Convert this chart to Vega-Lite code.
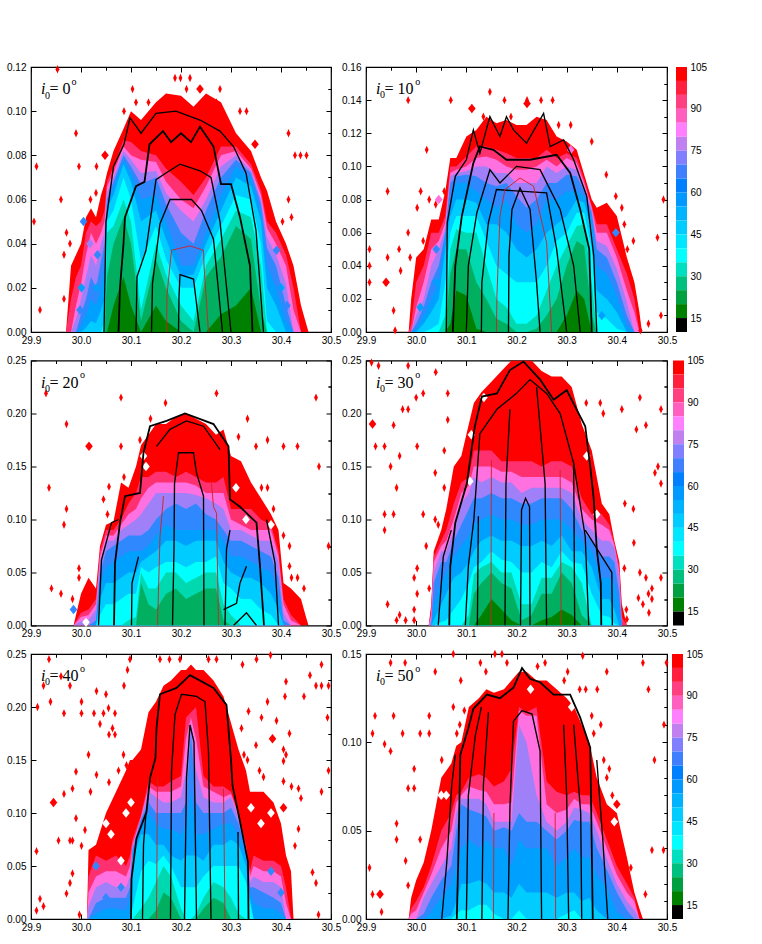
{"$schema":"https://vega.github.io/schema/vega-lite/v6.json","background":"white","padding":{"left":5,"top":61,"right":0,"bottom":0},
"config":{"view":{"stroke":"black","strokeWidth":1.2},"style":{"big":{"font":"Liberation Serif","fontSize":16,"align":"left"},"sm":{"font":"Liberation Serif","fontSize":10,"align":"left"},"sc":{"shape":"M0,-1L0.45,0L0,1L-0.45,0Z","filled":true,"color":"#ff0000","size":70,"opacity":1,"clip":true},"mo":{"shape":"M0,-1L0.8,0L0,1L-0.8,0Z","filled":true,"size":90,"opacity":1,"clip":true}},"axis":{"title":null,"grid":false,"domain":false,"tickColor":"black","labelColor":"black","labelFont":"Liberation Sans","labelFontSize":10,"labelFlush":false,"tickSize":-5,"tickWidth":1,"labelOverlap":false},"axisX":{"labelPadding":8},"axisY":{"labelPadding":10}},
"datasets":{
"b0":[
{"x":29.97,"a":0,"b":0,"c":0,"d":0,"e":0,"f":0,"g":0,"h":0,"i":0,"j":0,"k":0},
{"x":29.98,"a":0.03,"b":0.015,"c":0,"d":0,"e":0,"f":0,"g":0,"h":0,"i":0,"j":0,"k":0},
{"x":29.99,"a":0.035,"b":0.025,"c":0.012,"d":0.006,"e":0,"f":0,"g":0,"h":0,"i":0,"j":0,"k":0},
{"x":30.0,"a":0.04,"b":0.03,"c":0.022,"d":0.015,"e":0.008,"f":0.003,"g":0,"h":0,"i":0,"j":0,"k":0},
{"x":30.01,"a":0.052,"b":0.045,"c":0.035,"d":0.025,"e":0.015,"f":0.008,"g":0.002,"h":0,"i":0,"j":0,"k":0},
{"x":30.02,"a":0.056,"b":0.05,"c":0.045,"d":0.035,"e":0.025,"f":0.015,"g":0.005,"h":0,"i":0,"j":0,"k":0},
{"x":30.03,"a":0.052,"b":0.048,"c":0.04,"d":0.03,"e":0.02,"f":0.012,"g":0.004,"h":0,"i":0,"j":0,"k":0},
{"x":30.04,"a":0.062,"b":0.05,"c":0.045,"d":0.04,"e":0.032,"f":0.02,"g":0.01,"h":0,"i":0,"j":0,"k":0},
{"x":30.047,"a":0.067,"b":0.055,"c":0.05,"d":0.045,"e":0.04,"f":0.03,"g":0.015,"h":0.005,"i":0,"j":0,"k":0},
{"x":30.052,"a":0.072,"b":0.068,"c":0.066,"d":0.063,"e":0.06,"f":0.058,"g":0.056,"h":0.05,"i":0.045,"j":0.025,"k":0},
{"x":30.065,"a":0.082,"b":0.075,"c":0.072,"d":0.07,"e":0.068,"f":0.066,"g":0.062,"h":0.055,"i":0.048,"j":0.04,"k":0.012},
{"x":30.085,"a":0.092,"b":0.087,"c":0.084,"d":0.082,"e":0.08,"f":0.078,"g":0.076,"h":0.07,"i":0.06,"j":0.052,"k":0.025},
{"x":30.1,"a":0.1,"b":0.086,"c":0.08,"d":0.078,"e":0.075,"f":0.072,"g":0.068,"h":0.06,"i":0.05,"j":0.04,"k":0.012},
{"x":30.12,"a":0.096,"b":0.082,"c":0.078,"d":0.072,"e":0.067,"f":0.06,"g":0.05,"h":0.032,"i":0.01,"j":0.005,"k":0},
{"x":30.15,"a":0.104,"b":0.08,"c":0.077,"d":0.073,"e":0.07,"f":0.062,"g":0.055,"h":0.048,"i":0.04,"j":0.033,"k":0.012},
{"x":30.17,"a":0.108,"b":0.074,"c":0.068,"d":0.063,"e":0.058,"f":0.05,"g":0.042,"h":0.033,"i":0.026,"j":0.02,"k":0.005},
{"x":30.2,"a":0.107,"b":0.068,"c":0.06,"d":0.055,"e":0.045,"f":0.03,"g":0.025,"h":0.02,"i":0.012,"j":0.005,"k":0},
{"x":30.225,"a":0.102,"b":0.062,"c":0.056,"d":0.05,"e":0.04,"f":0.03,"g":0.026,"h":0.02,"i":0.005,"j":0,"k":0},
{"x":30.25,"a":0.108,"b":0.07,"c":0.066,"d":0.06,"e":0.055,"f":0.045,"g":0.04,"h":0.035,"i":0.03,"j":0.025,"k":0},
{"x":30.28,"a":0.104,"b":0.084,"c":0.08,"d":0.075,"e":0.07,"f":0.062,"g":0.055,"h":0.048,"i":0.042,"j":0.034,"k":0.008},
{"x":30.31,"a":0.09,"b":0.084,"c":0.082,"d":0.08,"e":0.078,"f":0.075,"g":0.07,"h":0.062,"i":0.055,"j":0.048,"k":0.012},
{"x":30.34,"a":0.082,"b":0.076,"c":0.074,"d":0.073,"e":0.072,"f":0.07,"g":0.066,"h":0.06,"i":0.052,"j":0.042,"k":0.02},
{"x":30.36,"a":0.07,"b":0.064,"c":0.062,"d":0.06,"e":0.058,"f":0.054,"g":0.05,"h":0.04,"i":0.03,"j":0.01,"k":0},
{"x":30.372,"a":0.064,"b":0.05,"c":0.047,"d":0.043,"e":0.038,"f":0.03,"g":0.02,"h":0.005,"i":0,"j":0,"k":0},
{"x":30.39,"a":0.05,"b":0.045,"c":0.04,"d":0.035,"e":0.03,"f":0.02,"g":0.012,"h":0,"i":0,"j":0,"k":0},
{"x":30.41,"a":0.04,"b":0.035,"c":0.03,"d":0.022,"e":0.012,"f":0.005,"g":0,"h":0,"i":0,"j":0,"k":0},
{"x":30.425,"a":0.03,"b":0.02,"c":0.01,"d":0,"e":0,"f":0,"g":0,"h":0,"i":0,"j":0,"k":0},
{"x":30.44,"a":0.012,"b":0,"c":0,"d":0,"e":0,"f":0,"g":0,"h":0,"i":0,"j":0,"k":0},
{"x":30.45,"a":0.004,"b":0,"c":0,"d":0,"e":0,"f":0,"g":0,"h":0,"i":0,"j":0,"k":0},
{"x":30.455,"a":0,"b":0,"c":0,"d":0,"e":0,"f":0,"g":0,"h":0,"i":0,"j":0,"k":0}],
"b1":[
{"x":29.985,"a":0,"b":0,"c":0,"d":0,"e":0,"f":0,"g":0,"h":0,"i":0,"j":0,"k":0},
{"x":29.99,"a":0.02,"b":0.005,"c":0,"d":0,"e":0,"f":0,"g":0,"h":0,"i":0,"j":0,"k":0},
{"x":30.0,"a":0.045,"b":0.03,"c":0.015,"d":0.01,"e":0.005,"f":0.002,"g":0,"h":0,"i":0,"j":0,"k":0},
{"x":30.015,"a":0.05,"b":0.04,"c":0.03,"d":0.02,"e":0.015,"f":0.01,"g":0.005,"h":0,"i":0,"j":0,"k":0},
{"x":30.03,"a":0.068,"b":0.06,"c":0.05,"d":0.04,"e":0.03,"f":0.02,"g":0.012,"h":0.002,"i":0,"j":0,"k":0},
{"x":30.045,"a":0.068,"b":0.06,"c":0.055,"d":0.05,"e":0.04,"f":0.03,"g":0.02,"h":0.005,"i":0,"j":0,"k":0},
{"x":30.058,"a":0.085,"b":0.07,"c":0.066,"d":0.062,"e":0.06,"f":0.058,"g":0.05,"h":0.03,"i":0.01,"j":0,"k":0},
{"x":30.068,"a":0.105,"b":0.1,"c":0.096,"d":0.094,"e":0.09,"f":0.08,"g":0.07,"h":0.06,"i":0.05,"j":0.035,"k":0.005},
{"x":30.08,"a":0.105,"b":0.1,"c":0.098,"d":0.096,"e":0.094,"f":0.09,"g":0.08,"h":0.07,"i":0.062,"j":0.05,"k":0.025},
{"x":30.1,"a":0.118,"b":0.106,"c":0.1,"d":0.097,"e":0.095,"f":0.09,"g":0.08,"h":0.07,"i":0.06,"j":0.05,"k":0.022},
{"x":30.12,"a":0.122,"b":0.112,"c":0.105,"d":0.1,"e":0.094,"f":0.085,"g":0.078,"h":0.07,"i":0.06,"j":0.03,"k":0.002},
{"x":30.14,"a":0.13,"b":0.112,"c":0.106,"d":0.1,"e":0.09,"f":0.08,"g":0.065,"h":0.055,"i":0.04,"j":0.02,"k":0},
{"x":30.16,"a":0.126,"b":0.11,"c":0.104,"d":0.096,"e":0.088,"f":0.075,"g":0.065,"h":0.04,"i":0.02,"j":0.008,"k":0},
{"x":30.18,"a":0.128,"b":0.108,"c":0.1,"d":0.096,"e":0.09,"f":0.08,"g":0.06,"h":0.035,"i":0.015,"j":0.005,"k":0},
{"x":30.2,"a":0.125,"b":0.105,"c":0.098,"d":0.09,"e":0.082,"f":0.065,"g":0.05,"h":0.03,"i":0.005,"j":0,"k":0},
{"x":30.22,"a":0.125,"b":0.105,"c":0.098,"d":0.09,"e":0.075,"f":0.06,"g":0.045,"h":0.03,"i":0.005,"j":0,"k":0},
{"x":30.24,"a":0.13,"b":0.105,"c":0.1,"d":0.09,"e":0.08,"f":0.065,"g":0.05,"h":0.03,"i":0.01,"j":0.002,"k":0},
{"x":30.26,"a":0.128,"b":0.11,"c":0.104,"d":0.1,"e":0.09,"f":0.08,"g":0.06,"h":0.04,"i":0.025,"j":0.01,"k":0},
{"x":30.28,"a":0.118,"b":0.105,"c":0.1,"d":0.096,"e":0.09,"f":0.08,"g":0.065,"h":0.055,"i":0.04,"j":0.02,"k":0},
{"x":30.3,"a":0.115,"b":0.108,"c":0.105,"d":0.1,"e":0.095,"f":0.085,"g":0.07,"h":0.06,"i":0.052,"j":0.04,"k":0.01},
{"x":30.32,"a":0.11,"b":0.105,"c":0.102,"d":0.098,"e":0.094,"f":0.085,"g":0.08,"h":0.072,"i":0.064,"j":0.055,"k":0.025},
{"x":30.335,"a":0.095,"b":0.092,"c":0.09,"d":0.088,"e":0.085,"f":0.082,"g":0.078,"h":0.072,"i":0.065,"j":0.052,"k":0.02},
{"x":30.35,"a":0.08,"b":0.076,"c":0.075,"d":0.074,"e":0.072,"f":0.068,"g":0.062,"h":0.05,"i":0.03,"j":0.01,"k":0},
{"x":30.36,"a":0.075,"b":0.065,"c":0.06,"d":0.055,"e":0.05,"f":0.04,"g":0.025,"h":0.012,"i":0,"j":0,"k":0},
{"x":30.38,"a":0.078,"b":0.065,"c":0.06,"d":0.052,"e":0.045,"f":0.035,"g":0.02,"h":0.008,"i":0,"j":0,"k":0},
{"x":30.4,"a":0.07,"b":0.05,"c":0.045,"d":0.038,"e":0.03,"f":0.022,"g":0.012,"h":0.002,"i":0,"j":0,"k":0},
{"x":30.42,"a":0.045,"b":0.035,"c":0.025,"d":0.018,"e":0.01,"f":0.004,"g":0,"h":0,"i":0,"j":0,"k":0},
{"x":30.435,"a":0.03,"b":0.02,"c":0.012,"d":0,"e":0,"f":0,"g":0,"h":0,"i":0,"j":0,"k":0},
{"x":30.445,"a":0.012,"b":0,"c":0,"d":0,"e":0,"f":0,"g":0,"h":0,"i":0,"j":0,"k":0},
{"x":30.45,"a":0,"b":0,"c":0,"d":0,"e":0,"f":0,"g":0,"h":0,"i":0,"j":0,"k":0}],
"b2":[
{"x":29.985,"a":0,"b":0,"c":0,"d":0,"e":0,"f":0,"g":0,"h":0,"i":0,"j":0},
{"x":30.0,"a":0.03,"b":0.012,"c":0.008,"d":0.004,"e":0,"f":0,"g":0,"h":0,"i":0,"j":0},
{"x":30.015,"a":0.045,"b":0.015,"c":0.01,"d":0.005,"e":0,"f":0,"g":0,"h":0,"i":0,"j":0},
{"x":30.03,"a":0.035,"b":0.025,"c":0.02,"d":0.015,"e":0.005,"f":0.002,"g":0,"h":0,"i":0,"j":0},
{"x":30.038,"a":0.075,"b":0.07,"c":0.065,"d":0.06,"e":0.05,"f":0.04,"g":0.025,"h":0.01,"i":0,"j":0},
{"x":30.05,"a":0.095,"b":0.09,"c":0.085,"d":0.08,"e":0.07,"f":0.055,"g":0.04,"h":0.02,"i":0,"j":0},
{"x":30.065,"a":0.098,"b":0.09,"c":0.085,"d":0.08,"e":0.075,"f":0.06,"g":0.04,"h":0.02,"i":0,"j":0},
{"x":30.08,"a":0.135,"b":0.1,"c":0.095,"d":0.09,"e":0.08,"f":0.065,"g":0.045,"h":0.025,"i":0,"j":0},
{"x":30.095,"a":0.13,"b":0.115,"c":0.105,"d":0.095,"e":0.085,"f":0.07,"g":0.05,"h":0.03,"i":0.005,"j":0},
{"x":30.11,"a":0.15,"b":0.125,"c":0.11,"d":0.1,"e":0.085,"f":0.07,"g":0.05,"h":0.03,"i":0.008,"j":0},
{"x":30.12,"a":0.17,"b":0.14,"c":0.12,"d":0.105,"e":0.085,"f":0.07,"g":0.06,"h":0.055,"i":0.05,"j":0.04},
{"x":30.135,"a":0.18,"b":0.14,"c":0.13,"d":0.115,"e":0.09,"f":0.075,"g":0.065,"h":0.05,"i":0.035,"j":0.02},
{"x":30.15,"a":0.19,"b":0.145,"c":0.135,"d":0.125,"e":0.1,"f":0.085,"g":0.07,"h":0.055,"i":0.035,"j":0.015},
{"x":30.17,"a":0.19,"b":0.145,"c":0.135,"d":0.125,"e":0.11,"f":0.095,"g":0.08,"h":0.06,"i":0.05,"j":0.03},
{"x":30.19,"a":0.197,"b":0.14,"c":0.135,"d":0.125,"e":0.115,"f":0.09,"g":0.08,"h":0.06,"i":0.05,"j":0.035},
{"x":30.21,"a":0.2,"b":0.145,"c":0.135,"d":0.125,"e":0.11,"f":0.09,"g":0.075,"h":0.055,"i":0.04,"j":0.025},
{"x":30.23,"a":0.195,"b":0.14,"c":0.132,"d":0.123,"e":0.115,"f":0.09,"g":0.08,"h":0.06,"i":0.045,"j":0.03},
{"x":30.25,"a":0.19,"b":0.135,"c":0.125,"d":0.12,"e":0.105,"f":0.09,"g":0.08,"h":0.06,"i":0.05,"j":0.035},
{"x":30.27,"a":0.18,"b":0.135,"c":0.125,"d":0.115,"e":0.1,"f":0.09,"g":0.08,"h":0.065,"i":0.05,"j":0.035},
{"x":30.285,"a":0.185,"b":0.14,"c":0.125,"d":0.11,"e":0.09,"f":0.08,"g":0.06,"h":0.04,"i":0.02,"j":0.005},
{"x":30.3,"a":0.16,"b":0.11,"c":0.1,"d":0.09,"e":0.08,"f":0.065,"g":0.05,"h":0.035,"i":0.01,"j":0},
{"x":30.32,"a":0.155,"b":0.11,"c":0.095,"d":0.09,"e":0.08,"f":0.065,"g":0.045,"h":0.025,"i":0,"j":0},
{"x":30.34,"a":0.135,"b":0.11,"c":0.09,"d":0.085,"e":0.075,"f":0.06,"g":0.045,"h":0.025,"i":0,"j":0},
{"x":30.36,"a":0.12,"b":0.1,"c":0.09,"d":0.08,"e":0.07,"f":0.055,"g":0.04,"h":0.015,"i":0,"j":0},
{"x":30.38,"a":0.105,"b":0.095,"c":0.09,"d":0.08,"e":0.065,"f":0.05,"g":0.03,"h":0.01,"i":0,"j":0},
{"x":30.395,"a":0.09,"b":0.07,"c":0.065,"d":0.06,"e":0.045,"f":0.03,"g":0.015,"h":0,"i":0,"j":0},
{"x":30.405,"a":0.04,"b":0.025,"c":0.02,"d":0.012,"e":0.005,"f":0,"g":0,"h":0,"i":0,"j":0},
{"x":30.42,"a":0.035,"b":0.01,"c":0.005,"d":0,"e":0,"f":0,"g":0,"h":0,"i":0,"j":0},
{"x":30.44,"a":0.025,"b":0,"c":0,"d":0,"e":0,"f":0,"g":0,"h":0,"i":0,"j":0},
{"x":30.45,"a":0.008,"b":0,"c":0,"d":0,"e":0,"f":0,"g":0,"h":0,"i":0,"j":0},
{"x":30.455,"a":0,"b":0,"c":0,"d":0,"e":0,"f":0,"g":0,"h":0,"i":0,"j":0}],
"b3":[
{"x":30.025,"a":0,"b":0,"c":0,"d":0,"e":0,"f":0,"g":0,"h":0,"i":0,"j":0,"k":0},
{"x":30.03,"a":0.02,"b":0.015,"c":0.01,"d":0.005,"e":0,"f":0,"g":0,"h":0,"i":0,"j":0,"k":0},
{"x":30.035,"a":0.07,"b":0.065,"c":0.06,"d":0.05,"e":0.04,"f":0.02,"g":0.005,"h":0,"i":0,"j":0,"k":0},
{"x":30.05,"a":0.09,"b":0.08,"c":0.075,"d":0.07,"e":0.06,"f":0.04,"g":0.02,"h":0.003,"i":0,"j":0,"k":0},
{"x":30.06,"a":0.11,"b":0.09,"c":0.08,"d":0.07,"e":0.06,"f":0.05,"g":0.03,"h":0.005,"i":0,"j":0,"k":0},
{"x":30.075,"a":0.15,"b":0.115,"c":0.1,"d":0.09,"e":0.08,"f":0.065,"g":0.045,"h":0.015,"i":0,"j":0,"k":0},
{"x":30.09,"a":0.16,"b":0.135,"c":0.125,"d":0.115,"e":0.095,"f":0.075,"g":0.05,"h":0.025,"i":0,"j":0,"k":0},
{"x":30.105,"a":0.19,"b":0.14,"c":0.132,"d":0.125,"e":0.11,"f":0.085,"g":0.06,"h":0.04,"i":0.01,"j":0,"k":0},
{"x":30.115,"a":0.21,"b":0.165,"c":0.15,"d":0.14,"e":0.12,"f":0.095,"g":0.07,"h":0.055,"i":0.048,"j":0.03,"k":0},
{"x":30.13,"a":0.22,"b":0.165,"c":0.15,"d":0.135,"e":0.12,"f":0.1,"g":0.08,"h":0.06,"i":0.055,"j":0.04,"k":0.01},
{"x":30.15,"a":0.23,"b":0.165,"c":0.15,"d":0.14,"e":0.125,"f":0.105,"g":0.085,"h":0.07,"i":0.06,"j":0.05,"k":0.025},
{"x":30.17,"a":0.24,"b":0.155,"c":0.145,"d":0.135,"e":0.12,"f":0.1,"g":0.08,"h":0.062,"i":0.05,"j":0.04,"k":0.015},
{"x":30.19,"a":0.25,"b":0.155,"c":0.145,"d":0.135,"e":0.12,"f":0.1,"g":0.08,"h":0.06,"i":0.05,"j":0.035,"k":0.005},
{"x":30.21,"a":0.25,"b":0.155,"c":0.14,"d":0.125,"e":0.115,"f":0.095,"g":0.075,"h":0.05,"i":0.02,"j":0.005,"k":0},
{"x":30.23,"a":0.25,"b":0.155,"c":0.14,"d":0.13,"e":0.115,"f":0.095,"g":0.075,"h":0.05,"i":0.02,"j":0.01,"k":0},
{"x":30.25,"a":0.24,"b":0.15,"c":0.14,"d":0.13,"e":0.12,"f":0.1,"g":0.08,"h":0.06,"i":0.045,"j":0.03,"k":0.005},
{"x":30.27,"a":0.235,"b":0.155,"c":0.14,"d":0.13,"e":0.12,"f":0.1,"g":0.075,"h":0.055,"i":0.045,"j":0.03,"k":0.008},
{"x":30.29,"a":0.235,"b":0.155,"c":0.14,"d":0.13,"e":0.12,"f":0.1,"g":0.085,"h":0.07,"i":0.06,"j":0.05,"k":0.015},
{"x":30.31,"a":0.225,"b":0.15,"c":0.135,"d":0.125,"e":0.11,"f":0.09,"g":0.07,"h":0.06,"i":0.055,"j":0.04,"k":0.01},
{"x":30.33,"a":0.19,"b":0.12,"c":0.11,"d":0.1,"e":0.09,"f":0.08,"g":0.07,"h":0.058,"i":0.04,"j":0.01,"k":0},
{"x":30.35,"a":0.165,"b":0.105,"c":0.1,"d":0.09,"e":0.08,"f":0.07,"g":0.055,"h":0.03,"i":0,"j":0,"k":0},
{"x":30.37,"a":0.115,"b":0.105,"c":0.095,"d":0.08,"e":0.065,"f":0.045,"g":0.025,"h":0.01,"i":0,"j":0,"k":0},
{"x":30.385,"a":0.105,"b":0.095,"c":0.09,"d":0.08,"e":0.065,"f":0.045,"g":0.025,"h":0.008,"i":0,"j":0,"k":0},
{"x":30.395,"a":0.08,"b":0.078,"c":0.076,"d":0.074,"e":0.06,"f":0.04,"g":0.015,"h":0.002,"i":0,"j":0,"k":0},
{"x":30.405,"a":0.06,"b":0.055,"c":0.05,"d":0.045,"e":0.03,"f":0.015,"g":0,"h":0,"i":0,"j":0,"k":0},
{"x":30.41,"a":0.02,"b":0.008,"c":0,"d":0,"e":0,"f":0,"g":0,"h":0,"i":0,"j":0,"k":0},
{"x":30.42,"a":0,"b":0,"c":0,"d":0,"e":0,"f":0,"g":0,"h":0,"i":0,"j":0,"k":0}],
"b4":[
{"x":30.012,"a":0,"b":0,"c":0,"d":0,"e":0,"f":0,"g":0,"h":0,"i":0,"j":0},
{"x":30.015,"a":0.065,"b":0.04,"c":0.025,"d":0.012,"e":0,"f":0,"g":0,"h":0,"i":0,"j":0},
{"x":30.03,"a":0.07,"b":0.06,"c":0.04,"d":0.03,"e":0.015,"f":0.005,"g":0,"h":0,"i":0,"j":0},
{"x":30.05,"a":0.1,"b":0.055,"c":0.045,"d":0.035,"e":0.02,"f":0.01,"g":0,"h":0,"i":0,"j":0},
{"x":30.07,"a":0.12,"b":0.06,"c":0.045,"d":0.03,"e":0.02,"f":0.01,"g":0,"h":0,"i":0,"j":0},
{"x":30.09,"a":0.14,"b":0.05,"c":0.04,"d":0.03,"e":0.02,"f":0.008,"g":0,"h":0,"i":0,"j":0},
{"x":30.098,"a":0.15,"b":0.06,"c":0.05,"d":0.04,"e":0.03,"f":0.02,"g":0,"h":0,"i":0,"j":0},
{"x":30.103,"a":0.15,"b":0.075,"c":0.07,"d":0.068,"e":0.065,"f":0.062,"g":0.055,"h":0.01,"i":0,"j":0},
{"x":30.12,"a":0.16,"b":0.098,"c":0.096,"d":0.095,"e":0.094,"f":0.09,"g":0.08,"h":0.045,"i":0.01,"j":0},
{"x":30.135,"a":0.195,"b":0.13,"c":0.125,"d":0.12,"e":0.11,"f":0.1,"g":0.08,"h":0.055,"i":0.02,"j":0},
{"x":30.15,"a":0.205,"b":0.125,"c":0.12,"d":0.115,"e":0.1,"f":0.09,"g":0.07,"h":0.052,"i":0.035,"j":0.008},
{"x":30.165,"a":0.22,"b":0.125,"c":0.12,"d":0.11,"e":0.1,"f":0.085,"g":0.07,"h":0.06,"i":0.05,"j":0.025},
{"x":30.18,"a":0.225,"b":0.13,"c":0.12,"d":0.11,"e":0.1,"f":0.085,"g":0.06,"h":0.05,"i":0.04,"j":0.02},
{"x":30.2,"a":0.235,"b":0.135,"c":0.125,"d":0.115,"e":0.1,"f":0.08,"g":0.055,"h":0.03,"i":0.01,"j":0},
{"x":30.21,"a":0.235,"b":0.19,"c":0.17,"d":0.14,"e":0.11,"f":0.09,"g":0.06,"h":0.03,"i":0,"j":0},
{"x":30.22,"a":0.24,"b":0.195,"c":0.19,"d":0.185,"e":0.175,"f":0.12,"g":0.06,"h":0.03,"i":0,"j":0},
{"x":30.23,"a":0.235,"b":0.2,"c":0.17,"d":0.14,"e":0.11,"f":0.08,"g":0.06,"h":0.03,"i":0.005,"j":0},
{"x":30.245,"a":0.235,"b":0.135,"c":0.125,"d":0.115,"e":0.1,"f":0.08,"g":0.055,"h":0.04,"i":0.02,"j":0.01},
{"x":30.265,"a":0.225,"b":0.125,"c":0.12,"d":0.11,"e":0.1,"f":0.085,"g":0.07,"h":0.05,"i":0.035,"j":0.02},
{"x":30.285,"a":0.21,"b":0.125,"c":0.115,"d":0.11,"e":0.1,"f":0.09,"g":0.07,"h":0.05,"i":0.03,"j":0.015},
{"x":30.3,"a":0.185,"b":0.12,"c":0.118,"d":0.115,"e":0.105,"f":0.09,"g":0.075,"h":0.05,"i":0.02,"j":0},
{"x":30.315,"a":0.16,"b":0.1,"c":0.098,"d":0.095,"e":0.09,"f":0.08,"g":0.07,"h":0.05,"i":0.005,"j":0},
{"x":30.33,"a":0.14,"b":0.07,"c":0.068,"d":0.066,"e":0.065,"f":0.06,"g":0.05,"h":0.035,"i":0,"j":0},
{"x":30.338,"a":0.12,"b":0.045,"c":0.04,"d":0.035,"e":0.03,"f":0.025,"g":0.02,"h":0.015,"i":0,"j":0},
{"x":30.345,"a":0.12,"b":0.06,"c":0.05,"d":0.04,"e":0.03,"f":0.015,"g":0,"h":0,"i":0,"j":0},
{"x":30.365,"a":0.12,"b":0.055,"c":0.045,"d":0.035,"e":0.025,"f":0.01,"g":0,"h":0,"i":0,"j":0},
{"x":30.385,"a":0.11,"b":0.055,"c":0.045,"d":0.035,"e":0.02,"f":0.01,"g":0,"h":0,"i":0,"j":0},
{"x":30.4,"a":0.09,"b":0.05,"c":0.04,"d":0.03,"e":0.015,"f":0.005,"g":0,"h":0,"i":0,"j":0},
{"x":30.41,"a":0.06,"b":0.03,"c":0.015,"d":0,"e":0,"f":0,"g":0,"h":0,"i":0,"j":0},
{"x":30.42,"a":0.045,"b":0,"c":0,"d":0,"e":0,"f":0,"g":0,"h":0,"i":0,"j":0},
{"x":30.425,"a":0,"b":0,"c":0,"d":0,"e":0,"f":0,"g":0,"h":0,"i":0,"j":0}],
"b5":[
{"x":29.985,"a":0,"b":0,"c":0,"d":0,"e":0,"f":0,"g":0,"h":0},
{"x":29.99,"a":0.012,"b":0.006,"c":0.003,"d":0,"e":0,"f":0,"g":0,"h":0},
{"x":30.0,"a":0.022,"b":0.01,"c":0.005,"d":0,"e":0,"f":0,"g":0,"h":0},
{"x":30.015,"a":0.032,"b":0.018,"c":0.015,"d":0.012,"e":0.003,"f":0,"g":0,"h":0},
{"x":30.03,"a":0.05,"b":0.03,"c":0.025,"d":0.02,"e":0.012,"f":0.004,"g":0,"h":0},
{"x":30.05,"a":0.08,"b":0.05,"c":0.04,"d":0.03,"e":0.022,"f":0.012,"g":0,"h":0},
{"x":30.07,"a":0.088,"b":0.06,"c":0.05,"d":0.04,"e":0.03,"f":0.02,"g":0.002,"h":0},
{"x":30.08,"a":0.098,"b":0.07,"c":0.066,"d":0.06,"e":0.05,"f":0.03,"g":0.01,"h":0.003},
{"x":30.09,"a":0.1,"b":0.072,"c":0.07,"d":0.068,"e":0.065,"f":0.04,"g":0.02,"h":0.005},
{"x":30.105,"a":0.12,"b":0.08,"c":0.075,"d":0.068,"e":0.062,"f":0.045,"g":0.02,"h":0.005},
{"x":30.125,"a":0.125,"b":0.082,"c":0.073,"d":0.068,"e":0.06,"f":0.04,"g":0.022,"h":0.008},
{"x":30.14,"a":0.13,"b":0.08,"c":0.072,"d":0.065,"e":0.058,"f":0.045,"g":0.02,"h":0.008},
{"x":30.155,"a":0.128,"b":0.075,"c":0.065,"d":0.055,"e":0.05,"f":0.04,"g":0.015,"h":0.003},
{"x":30.175,"a":0.13,"b":0.078,"c":0.065,"d":0.055,"e":0.052,"f":0.04,"g":0.015,"h":0},
{"x":30.19,"a":0.135,"b":0.085,"c":0.066,"d":0.055,"e":0.05,"f":0.03,"g":0.012,"h":0},
{"x":30.205,"a":0.14,"b":0.12,"c":0.118,"d":0.11,"e":0.06,"f":0.045,"g":0.02,"h":0.005},
{"x":30.22,"a":0.14,"b":0.117,"c":0.115,"d":0.1,"e":0.055,"f":0.04,"g":0.015,"h":0},
{"x":30.24,"a":0.135,"b":0.12,"c":0.115,"d":0.07,"e":0.055,"f":0.04,"g":0.015,"h":0},
{"x":30.26,"a":0.135,"b":0.078,"c":0.065,"d":0.055,"e":0.05,"f":0.04,"g":0.015,"h":0},
{"x":30.28,"a":0.13,"b":0.072,"c":0.06,"d":0.05,"e":0.045,"f":0.03,"g":0.012,"h":0},
{"x":30.3,"a":0.125,"b":0.07,"c":0.062,"d":0.055,"e":0.05,"f":0.035,"g":0.015,"h":0.003},
{"x":30.315,"a":0.12,"b":0.072,"c":0.068,"d":0.063,"e":0.056,"f":0.04,"g":0.015,"h":0.005},
{"x":30.33,"a":0.11,"b":0.07,"c":0.065,"d":0.062,"e":0.055,"f":0.035,"g":0.01,"h":0},
{"x":30.345,"a":0.1,"b":0.07,"c":0.065,"d":0.06,"e":0.055,"f":0.035,"g":0.012,"h":0},
{"x":30.36,"a":0.08,"b":0.06,"c":0.055,"d":0.05,"e":0.04,"f":0.025,"g":0.005,"h":0},
{"x":30.38,"a":0.065,"b":0.045,"c":0.04,"d":0.034,"e":0.028,"f":0.018,"g":0,"h":0},
{"x":30.4,"a":0.06,"b":0.03,"c":0.025,"d":0.02,"e":0.015,"f":0.004,"g":0,"h":0},
{"x":30.42,"a":0.035,"b":0.02,"c":0.015,"d":0.01,"e":0.005,"f":0,"g":0,"h":0},
{"x":30.435,"a":0.015,"b":0.012,"c":0.01,"d":0.005,"e":0,"f":0,"g":0,"h":0},
{"x":30.445,"a":0.006,"b":0,"c":0,"d":0,"e":0,"f":0,"g":0,"h":0},
{"x":30.452,"a":0,"b":0,"c":0,"d":0,"e":0,"f":0,"g":0,"h":0}],
"c0":[
{"c":1,"w":"t","x":30.075,"y":0},{"c":1,"w":"t","x":30.078,"y":0.02},{"c":1,"w":"t","x":30.085,"y":0.04},{"c":1,"w":"t","x":30.088,"y":0.052},{"c":1,"w":"t","x":30.11,"y":0.066},{"c":1,"w":"t","x":30.127,"y":0.068},{"c":1,"w":"t","x":30.137,"y":0.085},{"c":1,"w":"t","x":30.164,"y":0.091},{"c":1,"w":"t","x":30.18,"y":0.086},{"c":1,"w":"t","x":30.2,"y":0.09},{"c":1,"w":"t","x":30.22,"y":0.086},{"c":1,"w":"t","x":30.238,"y":0.093},{"c":1,"w":"t","x":30.265,"y":0.084},{"c":1,"w":"t","x":30.28,"y":0.067},{"c":1,"w":"t","x":30.3,"y":0.067},{"c":1,"w":"t","x":30.318,"y":0.052},{"c":1,"w":"t","x":30.338,"y":0.03},{"c":1,"w":"t","x":30.343,"y":0},
{"c":2,"w":"k","x":30.046,"y":0},{"c":2,"w":"k","x":30.05,"y":0.05},{"c":2,"w":"k","x":30.065,"y":0.075},{"c":2,"w":"k","x":30.086,"y":0.085},{"c":2,"w":"k","x":30.098,"y":0.097},{"c":2,"w":"k","x":30.12,"y":0.09},{"c":2,"w":"k","x":30.15,"y":0.099},{"c":2,"w":"k","x":30.19,"y":0.1},{"c":2,"w":"k","x":30.238,"y":0.096},{"c":2,"w":"k","x":30.278,"y":0.091},{"c":2,"w":"k","x":30.305,"y":0.084},{"c":2,"w":"k","x":30.33,"y":0.072},{"c":2,"w":"k","x":30.35,"y":0.046},{"c":2,"w":"k","x":30.365,"y":0},
{"c":3,"w":"k","x":30.11,"y":0},{"c":3,"w":"k","x":30.112,"y":0.025},{"c":3,"w":"k","x":30.13,"y":0.037},{"c":3,"w":"k","x":30.15,"y":0.069},{"c":3,"w":"k","x":30.17,"y":0.072},{"c":3,"w":"k","x":30.198,"y":0.076},{"c":3,"w":"k","x":30.238,"y":0.073},{"c":3,"w":"k","x":30.26,"y":0.07},{"c":3,"w":"k","x":30.278,"y":0.05},{"c":3,"w":"k","x":30.3,"y":0},
{"c":4,"w":"k","x":30.141,"y":0},{"c":4,"w":"k","x":30.143,"y":0.022},{"c":4,"w":"k","x":30.158,"y":0.049},{"c":4,"w":"k","x":30.178,"y":0.06},{"c":4,"w":"k","x":30.221,"y":0.06},{"c":4,"w":"k","x":30.241,"y":0.055},{"c":4,"w":"k","x":30.265,"y":0.042},{"c":4,"w":"k","x":30.283,"y":0},
{"c":5,"w":"r","x":30.171,"y":0},{"c":5,"w":"r","x":30.172,"y":0.017},{"c":5,"w":"r","x":30.181,"y":0.037},{"c":5,"w":"r","x":30.218,"y":0.039},{"c":5,"w":"r","x":30.245,"y":0.037},{"c":5,"w":"r","x":30.246,"y":0.03},{"c":5,"w":"r","x":30.255,"y":0},
{"c":6,"w":"k","x":30.195,"y":0},{"c":6,"w":"k","x":30.196,"y":0.016},{"c":6,"w":"k","x":30.198,"y":0.026},{"c":6,"w":"k","x":30.225,"y":0.024},{"c":6,"w":"k","x":30.238,"y":0}],
"c1":[
{"c":1,"w":"t","x":30.073,"y":0},{"c":1,"w":"t","x":30.078,"y":0.04},{"c":1,"w":"t","x":30.091,"y":0.07},{"c":1,"w":"t","x":30.114,"y":0.102},{"c":1,"w":"t","x":30.127,"y":0.112},{"c":1,"w":"t","x":30.154,"y":0.11},{"c":1,"w":"t","x":30.18,"y":0.104},{"c":1,"w":"t","x":30.227,"y":0.104},{"c":1,"w":"t","x":30.28,"y":0.107},{"c":1,"w":"t","x":30.307,"y":0.096},{"c":1,"w":"t","x":30.327,"y":0.074},{"c":1,"w":"t","x":30.345,"y":0.05},{"c":1,"w":"t","x":30.35,"y":0},
{"c":2,"w":"k","x":30.06,"y":0},{"c":2,"w":"k","x":30.062,"y":0.066},{"c":2,"w":"k","x":30.078,"y":0.094},{"c":2,"w":"k","x":30.1,"y":0.104},{"c":2,"w":"k","x":30.114,"y":0.122},{"c":2,"w":"k","x":30.127,"y":0.108},{"c":2,"w":"k","x":30.147,"y":0.13},{"c":2,"w":"k","x":30.167,"y":0.118},{"c":2,"w":"k","x":30.18,"y":0.13},{"c":2,"w":"k","x":30.194,"y":0.122},{"c":2,"w":"k","x":30.22,"y":0.114},{"c":2,"w":"k","x":30.254,"y":0.132},{"c":2,"w":"k","x":30.267,"y":0.112},{"c":2,"w":"k","x":30.294,"y":0.116},{"c":2,"w":"k","x":30.314,"y":0.104},{"c":2,"w":"k","x":30.34,"y":0.082},{"c":2,"w":"k","x":30.354,"y":0.046},{"c":2,"w":"k","x":30.36,"y":0},
{"c":3,"w":"k","x":30.1,"y":0},{"c":3,"w":"k","x":30.104,"y":0.04},{"c":3,"w":"k","x":30.121,"y":0.072},{"c":3,"w":"k","x":30.147,"y":0.098},{"c":3,"w":"k","x":30.167,"y":0.09},{"c":3,"w":"k","x":30.2,"y":0.1},{"c":3,"w":"k","x":30.247,"y":0.098},{"c":3,"w":"k","x":30.287,"y":0.074},{"c":3,"w":"k","x":30.314,"y":0.04},{"c":3,"w":"k","x":30.327,"y":0},
{"c":4,"w":"k","x":30.13,"y":0},{"c":4,"w":"k","x":30.131,"y":0.03},{"c":4,"w":"k","x":30.144,"y":0.066},{"c":4,"w":"k","x":30.16,"y":0.086},{"c":4,"w":"k","x":30.26,"y":0.084},{"c":4,"w":"k","x":30.28,"y":0.05},{"c":4,"w":"k","x":30.3,"y":0},
{"c":5,"w":"r","x":30.16,"y":0},{"c":5,"w":"r","x":30.161,"y":0.022},{"c":5,"w":"r","x":30.167,"y":0.07},{"c":5,"w":"r","x":30.177,"y":0.086},{"c":5,"w":"r","x":30.207,"y":0.093},{"c":5,"w":"r","x":30.234,"y":0.088},{"c":5,"w":"r","x":30.26,"y":0.054},{"c":5,"w":"r","x":30.27,"y":0},
{"c":6,"w":"k","x":30.184,"y":0},{"c":6,"w":"k","x":30.185,"y":0.046},{"c":6,"w":"k","x":30.191,"y":0.074},{"c":6,"w":"k","x":30.207,"y":0.087},{"c":6,"w":"k","x":30.227,"y":0.074},{"c":6,"w":"k","x":30.24,"y":0.03},{"c":6,"w":"k","x":30.247,"y":0}],
"c2":[
{"c":1,"w":"t","x":30.066,"y":0},{"c":1,"w":"t","x":30.068,"y":0.059},{"c":1,"w":"t","x":30.078,"y":0.097},{"c":1,"w":"t","x":30.088,"y":0.122},{"c":1,"w":"t","x":30.118,"y":0.125},{"c":1,"w":"t","x":30.125,"y":0.163},{"c":1,"w":"t","x":30.138,"y":0.188},{"c":1,"w":"t","x":30.171,"y":0.193},{"c":1,"w":"t","x":30.208,"y":0.2},{"c":1,"w":"t","x":30.265,"y":0.19},{"c":1,"w":"t","x":30.295,"y":0.169},{"c":1,"w":"t","x":30.298,"y":0.119},{"c":1,"w":"t","x":30.318,"y":0.112},{"c":1,"w":"t","x":30.351,"y":0.097},{"c":1,"w":"t","x":30.358,"y":0.056},{"c":1,"w":"t","x":30.366,"y":0},
{"c":2,"w":"k","x":30.035,"y":0},{"c":2,"w":"k","x":30.041,"y":0.062},{"c":2,"w":"k","x":30.061,"y":0.097},{"c":2,"w":"k","x":30.075,"y":0.1},
{"c":3,"w":"k","x":30.371,"y":0.1},{"c":3,"w":"k","x":30.388,"y":0.059},{"c":3,"w":"k","x":30.395,"y":0},
{"c":4,"w":"k","x":30.101,"y":0},{"c":4,"w":"k","x":30.102,"y":0.04},{"c":4,"w":"k","x":30.115,"y":0.065},
{"c":5,"w":"r","x":30.153,"y":0},{"c":5,"w":"r","x":30.158,"y":0.084},{"c":5,"w":"r","x":30.165,"y":0.122},
{"c":6,"w":"k","x":30.183,"y":0},{"c":6,"w":"k","x":30.186,"y":0.072},{"c":6,"w":"k","x":30.187,"y":0.134},{"c":6,"w":"k","x":30.195,"y":0.163},{"c":6,"w":"k","x":30.225,"y":0.163},{"c":6,"w":"k","x":30.231,"y":0.144},{"c":6,"w":"k","x":30.245,"y":0.122},{"c":6,"w":"k","x":30.246,"y":0},
{"c":7,"w":"r","x":30.261,"y":0.134},{"c":7,"w":"r","x":30.265,"y":0.112},{"c":7,"w":"r","x":30.271,"y":0.106},{"c":7,"w":"r","x":30.275,"y":0},
{"c":8,"w":"k","x":30.151,"y":0.169},{"c":8,"w":"k","x":30.178,"y":0.185},{"c":8,"w":"k","x":30.211,"y":0.193},{"c":8,"w":"k","x":30.245,"y":0.188},{"c":8,"w":"k","x":30.278,"y":0.166},
{"c":9,"w":"k","x":30.288,"y":0},{"c":9,"w":"k","x":30.291,"y":0.072},{"c":9,"w":"k","x":30.298,"y":0.09},
{"c":10,"w":"k","x":30.285,"y":0.015},{"c":10,"w":"k","x":30.311,"y":0.021},{"c":10,"w":"k","x":30.318,"y":0.04},{"c":10,"w":"k","x":30.331,"y":0.056},
{"c":11,"w":"k","x":30.305,"y":0},{"c":11,"w":"k","x":30.331,"y":0.012},{"c":11,"w":"k","x":30.351,"y":0}],
"c3":[
{"c":1,"w":"t","x":30.066,"y":0},{"c":1,"w":"t","x":30.068,"y":0.056},{"c":1,"w":"t","x":30.078,"y":0.097},{"c":1,"w":"t","x":30.101,"y":0.134},{"c":1,"w":"t","x":30.117,"y":0.188},{"c":1,"w":"t","x":30.131,"y":0.216},{"c":1,"w":"t","x":30.161,"y":0.219},{"c":1,"w":"t","x":30.187,"y":0.241},{"c":1,"w":"t","x":30.214,"y":0.249},{"c":1,"w":"t","x":30.247,"y":0.232},{"c":1,"w":"t","x":30.274,"y":0.213},{"c":1,"w":"t","x":30.3,"y":0.222},{"c":1,"w":"t","x":30.337,"y":0.188},{"c":1,"w":"t","x":30.347,"y":0.15},{"c":1,"w":"t","x":30.354,"y":0.119},{"c":1,"w":"t","x":30.36,"y":0.072},{"c":1,"w":"t","x":30.368,"y":0.04},{"c":1,"w":"t","x":30.369,"y":0},
{"c":2,"w":"k","x":30.044,"y":0},{"c":2,"w":"k","x":30.054,"y":0.065},{"c":2,"w":"k","x":30.07,"y":0.09},
{"c":3,"w":"k","x":30.098,"y":0},{"c":3,"w":"k","x":30.104,"y":0.056},{"c":3,"w":"k","x":30.115,"y":0.1},{"c":3,"w":"k","x":30.127,"y":0.181},{"c":3,"w":"k","x":30.161,"y":0.204},{"c":3,"w":"k","x":30.2,"y":0.219},{"c":3,"w":"k","x":30.227,"y":0.232},{"c":3,"w":"k","x":30.26,"y":0.219},{"c":3,"w":"k","x":30.287,"y":0.2},{"c":3,"w":"k","x":30.314,"y":0.153},{"c":3,"w":"k","x":30.337,"y":0.084},{"c":3,"w":"k","x":30.344,"y":0},
{"c":4,"w":"r","x":30.149,"y":0},{"c":4,"w":"r","x":30.15,"y":0.156},
{"c":5,"w":"k","x":30.122,"y":0},{"c":5,"w":"k","x":30.124,"y":0.103},
{"c":6,"w":"k","x":30.177,"y":0},{"c":6,"w":"k","x":30.179,"y":0.134},{"c":6,"w":"k","x":30.187,"y":0.204},
{"c":7,"w":"k","x":30.208,"y":0},{"c":7,"w":"k","x":30.21,"y":0.109},{"c":7,"w":"k","x":30.218,"y":0.12},{"c":7,"w":"k","x":30.226,"y":0.112},{"c":7,"w":"k","x":30.227,"y":0},
{"c":8,"w":"k","x":30.24,"y":0.225},{"c":8,"w":"k","x":30.257,"y":0.134},{"c":8,"w":"k","x":30.26,"y":0},
{"c":9,"w":"r","x":30.287,"y":0.147},{"c":9,"w":"r","x":30.289,"y":0},
{"c":10,"w":"k","x":30.314,"y":0.153},{"c":10,"w":"k","x":30.316,"y":0},
{"c":11,"w":"k","x":30.337,"y":0.09},{"c":11,"w":"k","x":30.39,"y":0.05},{"c":11,"w":"k","x":30.391,"y":0}],
"c4":[
{"c":1,"w":"t","x":30.1,"y":0},{"c":1,"w":"t","x":30.101,"y":0.038},{"c":1,"w":"t","x":30.111,"y":0.076},{"c":1,"w":"t","x":30.131,"y":0.101},{"c":1,"w":"t","x":30.138,"y":0.133},{"c":1,"w":"t","x":30.149,"y":0.152},{"c":1,"w":"t","x":30.151,"y":0.18},{"c":1,"w":"t","x":30.158,"y":0.212},{"c":1,"w":"t","x":30.191,"y":0.218},{"c":1,"w":"t","x":30.218,"y":0.23},{"c":1,"w":"t","x":30.265,"y":0.218},{"c":1,"w":"t","x":30.291,"y":0.202},{"c":1,"w":"t","x":30.3,"y":0.15},{"c":1,"w":"t","x":30.303,"y":0.126},{"c":1,"w":"t","x":30.318,"y":0.092},{"c":1,"w":"t","x":30.334,"y":0.054},{"c":1,"w":"t","x":30.335,"y":0},
{"c":2,"w":"k","x":30.123,"y":0},{"c":2,"w":"k","x":30.125,"y":0.07},{"c":2,"w":"k","x":30.13,"y":0.1},
{"c":3,"w":"r","x":30.151,"y":0},{"c":3,"w":"r","x":30.153,"y":0.133},
{"c":4,"w":"k","x":30.179,"y":0},{"c":4,"w":"k","x":30.181,"y":0.139},{"c":4,"w":"k","x":30.188,"y":0.193},{"c":4,"w":"k","x":30.201,"y":0.212},{"c":4,"w":"k","x":30.231,"y":0.21},{"c":4,"w":"k","x":30.248,"y":0.205},{"c":4,"w":"k","x":30.255,"y":0.158},{"c":4,"w":"k","x":30.26,"y":0},
{"c":5,"w":"k","x":30.207,"y":0},{"c":5,"w":"k","x":30.211,"y":0.133},{"c":5,"w":"k","x":30.218,"y":0.183},{"c":5,"w":"k","x":30.226,"y":0.167},{"c":5,"w":"k","x":30.231,"y":0},
{"c":6,"w":"r","x":30.285,"y":0.123},{"c":6,"w":"r","x":30.288,"y":0},
{"c":7,"w":"k","x":30.314,"y":0.082},{"c":7,"w":"k","x":30.315,"y":0}],
"c5":[
{"c":1,"w":"t","x":30.081,"y":0},{"c":1,"w":"t","x":30.084,"y":0.034},{"c":1,"w":"t","x":30.088,"y":0.093},{"c":1,"w":"t","x":30.104,"y":0.108},{"c":1,"w":"t","x":30.114,"y":0.119},{"c":1,"w":"t","x":30.141,"y":0.127},{"c":1,"w":"t","x":30.167,"y":0.125},{"c":1,"w":"t","x":30.194,"y":0.131},{"c":1,"w":"t","x":30.211,"y":0.142},{"c":1,"w":"t","x":30.227,"y":0.136},{"c":1,"w":"t","x":30.247,"y":0.134},{"c":1,"w":"t","x":30.274,"y":0.127},{"c":1,"w":"t","x":30.307,"y":0.127},{"c":1,"w":"t","x":30.327,"y":0.114},{"c":1,"w":"t","x":30.347,"y":0.097},{"c":1,"w":"t","x":30.349,"y":0.06},{"c":1,"w":"t","x":30.352,"y":0},
{"c":2,"w":"k","x":30.051,"y":0},{"c":2,"w":"k","x":30.061,"y":0.032},{"c":2,"w":"k","x":30.071,"y":0.076},{"c":2,"w":"k","x":30.078,"y":0.093},
{"c":3,"w":"k","x":30.1,"y":0},{"c":3,"w":"k","x":30.104,"y":0.07},{"c":3,"w":"k","x":30.118,"y":0.104},{"c":3,"w":"k","x":30.13,"y":0.12},
{"c":4,"w":"k","x":30.131,"y":0},{"c":4,"w":"k","x":30.134,"y":0.076},{"c":4,"w":"k","x":30.144,"y":0.117},
{"c":5,"w":"r","x":30.154,"y":0},{"c":5,"w":"r","x":30.155,"y":0.06},
{"c":6,"w":"k","x":30.183,"y":0},{"c":6,"w":"k","x":30.187,"y":0.064},{"c":6,"w":"k","x":30.194,"y":0.112},{"c":6,"w":"k","x":30.211,"y":0.118},{"c":6,"w":"k","x":30.231,"y":0.116},{"c":6,"w":"k","x":30.247,"y":0.095},{"c":6,"w":"k","x":30.25,"y":0},
{"c":7,"w":"r","x":30.277,"y":0.06},{"c":7,"w":"r","x":30.278,"y":0},
{"c":8,"w":"k","x":30.294,"y":0.11},{"c":8,"w":"k","x":30.3,"y":0.07},{"c":8,"w":"k","x":30.304,"y":0},
{"c":9,"w":"k","x":30.314,"y":0.11},{"c":9,"w":"k","x":30.328,"y":0.06},{"c":9,"w":"k","x":30.33,"y":0},
{"c":10,"w":"k","x":30.36,"y":0.09},{"c":10,"w":"k","x":30.372,"y":0.045},{"c":10,"w":"k","x":30.382,"y":0}],
"s0":[{"x":29.953,"y":0.119},{"x":30.103,"y":0.11},{"x":30.11,"y":0.104},{"x":30.135,"y":0.104},{"x":30.086,"y":0.1},{"x":30.188,"y":0.115},{"x":30.199,"y":0.115},{"x":30.218,"y":0.115},{"x":30.211,"y":0.11},{"x":30.278,"y":0.11},{"x":30.271,"y":0.104},{"x":30.278,"y":0.1},{"x":30.318,"y":0.1},{"x":30.331,"y":0.1},{"x":29.99,"y":0.09},{"x":29.911,"y":0.075},{"x":29.996,"y":0.075},{"x":30.031,"y":0.075},{"x":29.96,"y":0.06},{"x":30.019,"y":0.06},{"x":29.906,"y":0.05},{"x":29.971,"y":0.045},{"x":29.978,"y":0.04},{"x":29.966,"y":0.035},{"x":29.966,"y":0.015},{"x":29.918,"y":0.01},{"x":30.415,"y":0.09},{"x":30.428,"y":0.08},{"x":30.439,"y":0.08},{"x":30.451,"y":0.08},{"x":30.415,"y":0.06},{"x":30.403,"y":0.05},{"x":30.421,"y":0.052},{"x":30.333,"y":0.08},{"x":30.03,"y":0.063}],
"s1":[{"x":29.907,"y":0.05},{"x":29.907,"y":0.04},{"x":29.907,"y":0.03},{"x":29.943,"y":0.085},{"x":29.984,"y":0.14},{"x":30.069,"y":0.14},{"x":30.147,"y":0.145},{"x":30.176,"y":0.14},{"x":30.221,"y":0.14},{"x":30.249,"y":0.14},{"x":30.272,"y":0.14},{"x":30.134,"y":0.13},{"x":30.189,"y":0.13},{"x":30.021,"y":0.11},{"x":30.35,"y":0.115},{"x":30.308,"y":0.125},{"x":30.284,"y":0.125},{"x":30.009,"y":0.085},{"x":30.002,"y":0.075},{"x":30.026,"y":0.08},{"x":30.039,"y":0.077},{"x":30.056,"y":0.085},{"x":29.984,"y":0.06},{"x":30.014,"y":0.055},{"x":29.966,"y":0.05},{"x":29.943,"y":0.045},{"x":29.988,"y":0.045},{"x":29.969,"y":0.037},{"x":29.955,"y":0.013},{"x":29.958,"y":0.001},{"x":30.379,"y":0.095},{"x":30.398,"y":0.082},{"x":30.41,"y":0.075},{"x":30.415,"y":0.065},{"x":30.433,"y":0.055},{"x":30.421,"y":0.05},{"x":30.481,"y":0.057},{"x":30.493,"y":0.08},{"x":30.488,"y":0.01},{"x":30.463,"y":0.005},{"x":30.447,"y":0.001},{"x":30.421,"y":0.04}],
"s2":[{"x":29.93,"y":0.219},{"x":29.971,"y":0.19},{"x":29.936,"y":0.13},{"x":29.971,"y":0.11},{"x":29.966,"y":0.095},{"x":29.996,"y":0.054},{"x":29.996,"y":0.045},{"x":29.941,"y":0.035},{"x":29.96,"y":0.03},{"x":29.983,"y":0.025},{"x":30.08,"y":0.215},{"x":30.169,"y":0.21},{"x":30.271,"y":0.219},{"x":30.47,"y":0.215},{"x":30.333,"y":0.195},{"x":30.08,"y":0.169},{"x":30.373,"y":0.175},{"x":30.35,"y":0.169},{"x":30.405,"y":0.169},{"x":30.433,"y":0.169},{"x":30.476,"y":0.15},{"x":30.495,"y":0.075},{"x":30.405,"y":0.085},{"x":30.417,"y":0.075},{"x":30.053,"y":0.105},{"x":30.056,"y":0.131},{"x":30.045,"y":0.119},{"x":30.086,"y":0.14},{"x":30.118,"y":0.175},{"x":30.139,"y":0.195},{"x":30.417,"y":0.056},{"x":30.421,"y":0.045},{"x":30.433,"y":0.045},{"x":30.446,"y":0.035},{"x":30.385,"y":0.11},{"x":30.373,"y":0.13},{"x":30.361,"y":0.13},{"x":30.315,"y":0.178}],
"s3":[{"x":29.925,"y":0.245},{"x":29.984,"y":0.245},{"x":29.911,"y":0.248},{"x":30.039,"y":0.239},{"x":30.014,"y":0.219},{"x":30.0,"y":0.215},{"x":29.973,"y":0.204},{"x":29.984,"y":0.204},{"x":29.955,"y":0.189},{"x":29.913,"y":0.19},{"x":29.919,"y":0.169},{"x":29.937,"y":0.169},{"x":30.002,"y":0.169},{"x":29.967,"y":0.16},{"x":29.949,"y":0.15},{"x":29.961,"y":0.13},{"x":29.937,"y":0.105},{"x":29.955,"y":0.105},{"x":29.937,"y":0.09},{"x":30.014,"y":0.105},{"x":30.038,"y":0.1},{"x":30.044,"y":0.095},{"x":30.02,"y":0.075},{"x":30.002,"y":0.054},{"x":29.996,"y":0.045},{"x":30.026,"y":0.035},{"x":30.002,"y":0.03},{"x":29.943,"y":0.02},{"x":29.996,"y":0.015},{"x":29.967,"y":0.01},{"x":29.961,"y":0.005},{"x":29.979,"y":0.005},{"x":29.996,"y":0.005},{"x":30.063,"y":0.219},{"x":30.056,"y":0.165},{"x":30.063,"y":0.194},{"x":30.056,"y":0.13},{"x":30.038,"y":0.144},{"x":30.339,"y":0.21},{"x":30.367,"y":0.21},{"x":30.373,"y":0.2},{"x":30.41,"y":0.204},{"x":30.439,"y":0.185},{"x":30.458,"y":0.189},{"x":30.446,"y":0.215},{"x":30.488,"y":0.204},{"x":30.476,"y":0.144},{"x":30.482,"y":0.15},{"x":30.488,"y":0.134},{"x":30.416,"y":0.115},{"x":30.433,"y":0.11},{"x":30.434,"y":0.078},{"x":30.415,"y":0.054},{"x":30.446,"y":0.05},{"x":30.458,"y":0.045},{"x":30.488,"y":0.045},{"x":30.47,"y":0.035},{"x":30.463,"y":0.03},{"x":30.47,"y":0.025},{"x":30.452,"y":0.02},{"x":30.464,"y":0.012},{"x":30.443,"y":0.026},{"x":30.419,"y":0.015},{"x":30.42,"y":0.006}],
"s4":[{"x":29.936,"y":0.245},{"x":29.911,"y":0.064},{"x":29.925,"y":0.22},{"x":29.939,"y":0.205},{"x":29.913,"y":0.2},{"x":29.966,"y":0.194},{"x":29.96,"y":0.229},{"x":29.978,"y":0.22},{"x":30.001,"y":0.205},{"x":30.031,"y":0.215},{"x":30.05,"y":0.212},{"x":30.001,"y":0.194},{"x":30.026,"y":0.194},{"x":30.038,"y":0.184},{"x":30.045,"y":0.194},{"x":30.068,"y":0.194},{"x":30.055,"y":0.199},{"x":30.098,"y":0.245},{"x":30.086,"y":0.22},{"x":30.093,"y":0.235},{"x":30.063,"y":0.18},{"x":30.056,"y":0.174},{"x":30.068,"y":0.174},{"x":30.015,"y":0.155},{"x":30.085,"y":0.155},{"x":30.091,"y":0.145},{"x":29.99,"y":0.139},{"x":30.075,"y":0.14},{"x":30.031,"y":0.136},{"x":30.056,"y":0.129},{"x":29.983,"y":0.123},{"x":29.966,"y":0.118},{"x":30.019,"y":0.12},{"x":29.99,"y":0.095},{"x":30.008,"y":0.084},{"x":29.978,"y":0.074},{"x":30.001,"y":0.069},{"x":29.955,"y":0.074},{"x":29.983,"y":0.074},{"x":29.983,"y":0.043},{"x":29.978,"y":0.034},{"x":29.971,"y":0.024},{"x":29.918,"y":0.019},{"x":29.925,"y":0.012},{"x":29.911,"y":0.008},{"x":29.997,"y":0.004},{"x":30.158,"y":0.245},{"x":30.177,"y":0.245},{"x":30.198,"y":0.245},{"x":30.255,"y":0.245},{"x":30.271,"y":0.245},{"x":30.323,"y":0.24},{"x":30.351,"y":0.245},{"x":30.379,"y":0.249},{"x":30.481,"y":0.24},{"x":30.47,"y":0.22},{"x":30.481,"y":0.22},{"x":30.495,"y":0.22},{"x":30.458,"y":0.23},{"x":30.41,"y":0.224},{"x":30.408,"y":0.21},{"x":30.446,"y":0.21},{"x":30.493,"y":0.19},{"x":30.373,"y":0.205},{"x":30.361,"y":0.19},{"x":30.391,"y":0.187},{"x":30.417,"y":0.175},{"x":30.335,"y":0.196},{"x":30.321,"y":0.18},{"x":30.383,"y":0.17},{"x":30.35,"y":0.164},{"x":30.405,"y":0.16},{"x":30.41,"y":0.155},{"x":30.326,"y":0.155},{"x":30.405,"y":0.149},{"x":30.333,"y":0.15},{"x":30.357,"y":0.14},{"x":30.495,"y":0.14},{"x":30.405,"y":0.13},{"x":30.421,"y":0.125},{"x":30.481,"y":0.12},{"x":30.44,"y":0.114},{"x":30.365,"y":0.134},{"x":30.435,"y":0.123},{"x":30.463,"y":0.044},{"x":30.47,"y":0.034},{"x":30.475,"y":0.004},{"x":30.428,"y":0.069},{"x":30.435,"y":0.085}],
"s5":[{"x":29.949,"y":0.145},{"x":29.978,"y":0.145},{"x":30.038,"y":0.14},{"x":30.074,"y":0.15},{"x":30.128,"y":0.145},{"x":30.139,"y":0.14},{"x":30.157,"y":0.15},{"x":30.171,"y":0.15},{"x":30.181,"y":0.145},{"x":30.257,"y":0.145},{"x":30.242,"y":0.143},{"x":30.302,"y":0.14},{"x":30.295,"y":0.135},{"x":30.332,"y":0.149},{"x":30.38,"y":0.14},{"x":30.452,"y":0.145},{"x":30.499,"y":0.145},{"x":30.326,"y":0.13},{"x":30.338,"y":0.13},{"x":30.361,"y":0.13},{"x":30.463,"y":0.13},{"x":30.35,"y":0.115},{"x":30.368,"y":0.11},{"x":30.494,"y":0.11},{"x":30.089,"y":0.135},{"x":30.096,"y":0.118},{"x":30.074,"y":0.12},{"x":30.081,"y":0.105},{"x":30.087,"y":0.11},{"x":30.026,"y":0.115},{"x":29.918,"y":0.115},{"x":29.955,"y":0.115},{"x":29.913,"y":0.105},{"x":29.973,"y":0.105},{"x":30.008,"y":0.105},{"x":30.026,"y":0.105},{"x":29.937,"y":0.099},{"x":29.949,"y":0.095},{"x":30.051,"y":0.09},{"x":29.996,"y":0.085},{"x":29.984,"y":0.074},{"x":29.996,"y":0.074},{"x":29.961,"y":0.054},{"x":29.961,"y":0.045},{"x":30.008,"y":0.045},{"x":29.979,"y":0.033},{"x":29.907,"y":0.029},{"x":29.984,"y":0.019},{"x":29.913,"y":0.014},{"x":29.928,"y":0.014},{"x":29.931,"y":0.004},{"x":30.374,"y":0.09},{"x":30.385,"y":0.085},{"x":30.38,"y":0.08},{"x":30.391,"y":0.07},{"x":30.475,"y":0.09},{"x":30.47,"y":0.039},{"x":30.493,"y":0.039},{"x":30.428,"y":0.029},{"x":30.457,"y":0.014},{"x":30.354,"y":0.105}],
"m0":[{"x":30.048,"y":0.08,"k":"a"},{"x":30.348,"y":0.085,"k":"a"},{"x":30.238,"y":0.11,"k":"a"},{"x":30.005,"y":0.05,"k":"e"},{"x":30.018,"y":0.04,"k":"d"},{"x":30.033,"y":0.035,"k":"e"},{"x":30.001,"y":0.02,"k":"f"},{"x":30.031,"y":0.02,"k":"f"},{"x":29.998,"y":0.01,"k":"e"},{"x":30.391,"y":0.037,"k":"e"},{"x":30.412,"y":0.012,"k":"e"},{"x":30.4,"y":0.02,"k":"f"}],
"m1":[{"x":29.94,"y":0.03,"k":"a"},{"x":30.111,"y":0.135,"k":"a"},{"x":30.221,"y":0.138,"k":"a"},{"x":30.398,"y":0.06,"k":"e"},{"x":30.37,"y":0.01,"k":"f"},{"x":30.008,"y":0.015,"k":"f"},{"x":30.04,"y":0.05,"k":"e"},{"x":30.04,"y":0.03,"k":"f"},{"x":30.308,"y":0.11,"k":"c"},{"x":30.045,"y":0.08,"k":"c"}],
"m2":[{"x":30.016,"y":0.169,"k":"a"},{"x":30.13,"y":0.15,"k":"w"},{"x":30.125,"y":0.16,"k":"w"},{"x":30.33,"y":0.1,"k":"w"},{"x":30.31,"y":0.13,"k":"w"},{"x":30.38,"y":0.095,"k":"w"},{"x":29.985,"y":0.015,"k":"e"},{"x":30.01,"y":0.003,"k":"w"}],
"m3":[{"x":30.107,"y":0.136,"k":"w"},{"x":30.11,"y":0.18,"k":"w"},{"x":30.135,"y":0.215,"k":"w"},{"x":30.345,"y":0.18,"k":"w"},{"x":30.34,"y":0.16,"k":"w"},{"x":30.36,"y":0.105,"k":"w"},{"x":30.34,"y":0.21,"k":"w"},{"x":29.913,"y":0.19,"k":"a"}],
"m4":[{"x":29.945,"y":0.11,"k":"a"},{"x":30.08,"y":0.055,"k":"w"},{"x":30.05,"y":0.09,"k":"w"},{"x":30.09,"y":0.1,"k":"w"},{"x":30.1,"y":0.11,"k":"w"},{"x":30.06,"y":0.08,"k":"w"},{"x":30.36,"y":0.09,"k":"w"},{"x":30.38,"y":0.1,"k":"w"},{"x":30.41,"y":0.09,"k":"w"},{"x":30.34,"y":0.105,"k":"w"},{"x":30.03,"y":0.05,"k":"e"},{"x":30.05,"y":0.02,"k":"e"},{"x":30.08,"y":0.03,"k":"e"},{"x":30.38,"y":0.045,"k":"e"},{"x":30.4,"y":0.025,"k":"e"},{"x":30.405,"y":0.105,"k":"a"},{"x":30.383,"y":0.17,"k":"a"}],
"m5":[{"x":29.928,"y":0.014,"k":"a"},{"x":30.06,"y":0.07,"k":"w"},{"x":30.05,"y":0.07,"k":"w"},{"x":30.395,"y":0.055,"k":"w"},{"x":30.4,"y":0.065,"k":"a"},{"x":30.228,"y":0.13,"k":"w"},{"x":30.31,"y":0.12,"k":"w"}],
"cb":[{"lo":100,"hi":105},{"lo":95,"hi":100},{"lo":90,"hi":95},{"lo":85,"hi":90},{"lo":80,"hi":85},{"lo":75,"hi":80},{"lo":70,"hi":75},{"lo":65,"hi":70},{"lo":60,"hi":65},{"lo":55,"hi":60},{"lo":50,"hi":55},{"lo":45,"hi":50},{"lo":40,"hi":45},{"lo":35,"hi":40},{"lo":30,"hi":35},{"lo":25,"hi":30},{"lo":20,"hi":25},{"lo":15,"hi":20},{"lo":10,"hi":15}]
},
"spacing":8.5,
"vconcat":[
{"spacing":35,"bounds":"flush","hconcat":[
{"width":300,"height":265,"resolve":{"axis":{"x":"independent","y":"independent"}},"layer":[
{"data":{"name":"b0"},"transform":[{"fold":["a","b","c","d","e","f","g","h","i","j","k"]}],"mark":{"type":"area","clip":true},"encoding":{"x":{"field":"x","type":"quantitative","scale":{"domain":[29.9,30.5],"nice":false,"zero":false},"axis":{"values":[29.9,30.0,30.1,30.2,30.3,30.4,30.5],"format":".1f"}},"y":{"field":"value","type":"quantitative","stack":null,"scale":{"domain":[0,0.12],"nice":false},"axis":{"values":[0,0.02,0.04,0.06,0.08,0.1,0.12],"format":".2f"}},"color":{"field":"key","type":"nominal","legend":null,"scale":{"domain":["a","b","c","d","e","f","g","h","i","j","k","w"],"range":["#ff0000","#ff3070","#ff70e0","#a080f8","#3088ff","#00a0ff","#00ccff","#00ffff","#00d8b0","#00b060","#008000","#ffffff"]}}}},
{"data":{"name":"m0"},"mark":{"type":"point","style":"mo"},"encoding":{"x":{"field":"x","type":"quantitative","axis":{"values":[29.95,30.05,30.15,30.25,30.35,30.45],"labels":false,"tickSize":-3}},"y":{"field":"y","type":"quantitative","axis":{"values":[0.01,0.03,0.05,0.07,0.09,0.11],"labels":false,"tickSize":-3}},"color":{"field":"k","type":"nominal","legend":null}}},
{"data":{"name":"c0"},"mark":{"type":"line","clip":true},"encoding":{"x":{"field":"x","type":"quantitative","axis":{"orient":"top","values":[29.9,30.0,30.1,30.2,30.3,30.4,30.5],"labels":false}},"y":{"field":"y","type":"quantitative","axis":{"orient":"right","values":[0,0.02,0.04,0.06,0.08,0.1,0.12],"labels":false}},"detail":{"field":"c"},"stroke":{"field":"w","type":"nominal","legend":null,"scale":{"domain":["t","k","r"],"range":["#000000","#000000","#d02020"]}},"strokeWidth":{"field":"w","type":"ordinal","legend":null,"scale":{"domain":["t","k","r"],"range":[1.8,0.9,0.8]}}}},
{"data":{"name":"s0"},"mark":{"type":"point","style":"sc"},"encoding":{"x":{"field":"x","type":"quantitative","axis":{"orient":"top","values":[29.95,30.05,30.15,30.25,30.35,30.45],"labels":false,"tickSize":-3}},"y":{"field":"y","type":"quantitative","axis":{"orient":"right","values":[0.01,0.03,0.05,0.07,0.09,0.11],"labels":false,"tickSize":-3}}}},
{"data":{"values":[{"x":29.92,"y":0.11,"t":"i"}]},"mark":{"type":"text","style":"big","fontStyle":"italic"},"encoding":{"x":{"field":"x","type":"quantitative","axis":null},"y":{"field":"y","type":"quantitative","axis":null},"text":{"field":"t"}}},
{"data":{"values":[{"x":29.937,"y":0.11,"t":"= 0"}]},"mark":{"type":"text","style":"big"},"encoding":{"x":{"field":"x","type":"quantitative","axis":null},"y":{"field":"y","type":"quantitative","axis":null},"text":{"field":"t"}}},
{"data":{"values":[{"x":29.928,"y":0.107,"t":"0"},{"x":29.981,"y":0.113,"t":"o"}]},"mark":{"type":"text","style":"sm"},"encoding":{"x":{"field":"x","type":"quantitative","axis":null},"y":{"field":"y","type":"quantitative","axis":null},"text":{"field":"t"}}}
]},
{"spacing":9,"bounds":"flush","hconcat":[
{"width":301,"height":265,"resolve":{"axis":{"x":"independent","y":"independent"}},"layer":[
{"data":{"name":"b1"},"transform":[{"fold":["a","b","c","d","e","f","g","h","i","j","k"]}],"mark":{"type":"area","clip":true},"encoding":{"x":{"field":"x","type":"quantitative","scale":{"domain":[29.9,30.5],"nice":false,"zero":false},"axis":{"values":[29.9,30.0,30.1,30.2,30.3,30.4,30.5],"format":".1f"}},"y":{"field":"value","type":"quantitative","stack":null,"scale":{"domain":[0,0.16],"nice":false},"axis":{"values":[0,0.02,0.04,0.06,0.08,0.1,0.12,0.14,0.16],"format":".2f"}},"color":{"field":"key","type":"nominal","legend":null,"scale":{"domain":["a","b","c","d","e","f","g","h","i","j","k","w"],"range":["#ff0000","#ff3070","#ff70e0","#a080f8","#3088ff","#00a0ff","#00ccff","#00ffff","#00d8b0","#00b060","#008000","#ffffff"]}}}},
{"data":{"name":"m1"},"mark":{"type":"point","style":"mo"},"encoding":{"x":{"field":"x","type":"quantitative","axis":{"values":[29.95,30.05,30.15,30.25,30.35,30.45],"labels":false,"tickSize":-3}},"y":{"field":"y","type":"quantitative","axis":{"values":[0.01,0.03,0.05,0.07,0.09,0.11,0.13,0.15],"labels":false,"tickSize":-3}},"color":{"field":"k","type":"nominal","legend":null}}},
{"data":{"name":"c1"},"mark":{"type":"line","clip":true},"encoding":{"x":{"field":"x","type":"quantitative","axis":{"orient":"top","values":[29.9,30.0,30.1,30.2,30.3,30.4,30.5],"labels":false}},"y":{"field":"y","type":"quantitative","axis":{"orient":"right","values":[0,0.02,0.04,0.06,0.08,0.1,0.12,0.14,0.16],"labels":false}},"detail":{"field":"c"},"stroke":{"field":"w","type":"nominal","legend":null,"scale":{"domain":["t","k","r"],"range":["#000000","#000000","#d02020"]}},"strokeWidth":{"field":"w","type":"ordinal","legend":null,"scale":{"domain":["t","k","r"],"range":[1.8,0.9,0.8]}}}},
{"data":{"name":"s1"},"mark":{"type":"point","style":"sc"},"encoding":{"x":{"field":"x","type":"quantitative","axis":{"orient":"top","values":[29.95,30.05,30.15,30.25,30.35,30.45],"labels":false,"tickSize":-3}},"y":{"field":"y","type":"quantitative","axis":{"orient":"right","values":[0.01,0.03,0.05,0.07,0.09,0.11,0.13,0.15],"labels":false,"tickSize":-3}}}},
{"data":{"values":[{"x":29.92,"y":0.147,"t":"i"}]},"mark":{"type":"text","style":"big","fontStyle":"italic"},"encoding":{"x":{"field":"x","type":"quantitative","axis":null},"y":{"field":"y","type":"quantitative","axis":null},"text":{"field":"t"}}},
{"data":{"values":[{"x":29.937,"y":0.147,"t":"= 10"}]},"mark":{"type":"text","style":"big"},"encoding":{"x":{"field":"x","type":"quantitative","axis":null},"y":{"field":"y","type":"quantitative","axis":null},"text":{"field":"t"}}},
{"data":{"values":[{"x":29.928,"y":0.143,"t":"0"},{"x":29.998,"y":0.151,"t":"o"}]},"mark":{"type":"text","style":"sm"},"encoding":{"x":{"field":"x","type":"quantitative","axis":null},"y":{"field":"y","type":"quantitative","axis":null},"text":{"field":"t"}}}
]},
{"width":11,"height":265,"data":{"name":"cb"},"mark":{"type":"rect"},"encoding":{"y":{"field":"lo","type":"quantitative","scale":{"domain":[10,105],"nice":false,"zero":false},"axis":{"orient":"right","values":[15,30,45,60,75,90,105],"ticks":false,"labelPadding":3}},"y2":{"field":"hi"},"fill":{"field":"lo","type":"ordinal","legend":null,"scale":{"domain":[100,95,90,85,80,75,70,65,60,55,50,45,40,35,30,25,20,15,10],"range":["#ff0000","#ff2040","#ff4080","#ff60c0","#ff80ff","#c080f0","#8080ff","#4080ff","#0080ff","#0099ff","#00b3ff","#00ccff","#00e6ff","#00ffff","#00e0c0","#00c080","#00a040","#008000","#000000"]}}},"view":{"stroke":null}}
]}
]},
{"spacing":35,"bounds":"flush","hconcat":[
{"width":300,"height":265,"resolve":{"axis":{"x":"independent","y":"independent"}},"layer":[
{"data":{"name":"b2"},"transform":[{"fold":["a","b","c","d","e","f","g","h","i","j"]}],"mark":{"type":"area","clip":true},"encoding":{"x":{"field":"x","type":"quantitative","scale":{"domain":[29.9,30.5],"nice":false,"zero":false},"axis":{"values":[29.9,30.0,30.1,30.2,30.3,30.4,30.5],"format":".1f"}},"y":{"field":"value","type":"quantitative","stack":null,"scale":{"domain":[0,0.25],"nice":false},"axis":{"values":[0,0.05,0.1,0.15,0.2,0.25],"format":".2f"}},"color":{"field":"key","type":"nominal","legend":null,"scale":{"domain":["a","b","c","d","e","f","g","h","i","j","k","w"],"range":["#ff0000","#ff3070","#ff70e0","#a080f8","#3088ff","#00a0ff","#00ccff","#00ffff","#00d8b0","#00b060","#008000","#ffffff"]}}}},
{"data":{"name":"m2"},"mark":{"type":"point","style":"mo"},"encoding":{"x":{"field":"x","type":"quantitative","axis":{"values":[29.95,30.05,30.15,30.25,30.35,30.45],"labels":false,"tickSize":-3}},"y":{"field":"y","type":"quantitative","axis":{"values":[0.025,0.075,0.125,0.175,0.225],"labels":false,"tickSize":-3}},"color":{"field":"k","type":"nominal","legend":null}}},
{"data":{"name":"c2"},"mark":{"type":"line","clip":true},"encoding":{"x":{"field":"x","type":"quantitative","axis":{"orient":"top","values":[29.9,30.0,30.1,30.2,30.3,30.4,30.5],"labels":false}},"y":{"field":"y","type":"quantitative","axis":{"orient":"right","values":[0,0.05,0.1,0.15,0.2,0.25],"labels":false}},"detail":{"field":"c"},"stroke":{"field":"w","type":"nominal","legend":null,"scale":{"domain":["t","k","r"],"range":["#000000","#000000","#d02020"]}},"strokeWidth":{"field":"w","type":"ordinal","legend":null,"scale":{"domain":["t","k","r"],"range":[1.8,0.9,0.8]}}}},
{"data":{"name":"s2"},"mark":{"type":"point","style":"sc"},"encoding":{"x":{"field":"x","type":"quantitative","axis":{"orient":"top","values":[29.95,30.05,30.15,30.25,30.35,30.45],"labels":false,"tickSize":-3}},"y":{"field":"y","type":"quantitative","axis":{"orient":"right","values":[0.025,0.075,0.125,0.175,0.225],"labels":false,"tickSize":-3}}}},
{"data":{"values":[{"x":29.92,"y":0.229,"t":"i"}]},"mark":{"type":"text","style":"big","fontStyle":"italic"},"encoding":{"x":{"field":"x","type":"quantitative","axis":null},"y":{"field":"y","type":"quantitative","axis":null},"text":{"field":"t"}}},
{"data":{"values":[{"x":29.937,"y":0.229,"t":"= 20"}]},"mark":{"type":"text","style":"big"},"encoding":{"x":{"field":"x","type":"quantitative","axis":null},"y":{"field":"y","type":"quantitative","axis":null},"text":{"field":"t"}}},
{"data":{"values":[{"x":29.928,"y":0.2235,"t":"0"},{"x":29.998,"y":0.236,"t":"o"}]},"mark":{"type":"text","style":"sm"},"encoding":{"x":{"field":"x","type":"quantitative","axis":null},"y":{"field":"y","type":"quantitative","axis":null},"text":{"field":"t"}}}
]},
{"spacing":6,"bounds":"flush","hconcat":[
{"width":301,"height":265,"resolve":{"axis":{"x":"independent","y":"independent"}},"layer":[
{"data":{"name":"b3"},"transform":[{"fold":["a","b","c","d","e","f","g","h","i","j","k"]}],"mark":{"type":"area","clip":true},"encoding":{"x":{"field":"x","type":"quantitative","scale":{"domain":[29.9,30.5],"nice":false,"zero":false},"axis":{"values":[29.9,30.0,30.1,30.2,30.3,30.4,30.5],"format":".1f"}},"y":{"field":"value","type":"quantitative","stack":null,"scale":{"domain":[0,0.25],"nice":false},"axis":{"values":[0,0.05,0.1,0.15,0.2,0.25],"format":".2f"}},"color":{"field":"key","type":"nominal","legend":null,"scale":{"domain":["a","b","c","d","e","f","g","h","i","j","k","w"],"range":["#ff0000","#ff3070","#ff70e0","#a080f8","#3088ff","#00a0ff","#00ccff","#00ffff","#00d8b0","#00b060","#008000","#ffffff"]}}}},
{"data":{"name":"m3"},"mark":{"type":"point","style":"mo"},"encoding":{"x":{"field":"x","type":"quantitative","axis":{"values":[29.95,30.05,30.15,30.25,30.35,30.45],"labels":false,"tickSize":-3}},"y":{"field":"y","type":"quantitative","axis":{"values":[0.025,0.075,0.125,0.175,0.225],"labels":false,"tickSize":-3}},"color":{"field":"k","type":"nominal","legend":null}}},
{"data":{"name":"c3"},"mark":{"type":"line","clip":true},"encoding":{"x":{"field":"x","type":"quantitative","axis":{"orient":"top","values":[29.9,30.0,30.1,30.2,30.3,30.4,30.5],"labels":false}},"y":{"field":"y","type":"quantitative","axis":{"orient":"right","values":[0,0.05,0.1,0.15,0.2,0.25],"labels":false}},"detail":{"field":"c"},"stroke":{"field":"w","type":"nominal","legend":null,"scale":{"domain":["t","k","r"],"range":["#000000","#000000","#d02020"]}},"strokeWidth":{"field":"w","type":"ordinal","legend":null,"scale":{"domain":["t","k","r"],"range":[1.8,0.9,0.8]}}}},
{"data":{"name":"s3"},"mark":{"type":"point","style":"sc"},"encoding":{"x":{"field":"x","type":"quantitative","axis":{"orient":"top","values":[29.95,30.05,30.15,30.25,30.35,30.45],"labels":false,"tickSize":-3}},"y":{"field":"y","type":"quantitative","axis":{"orient":"right","values":[0.025,0.075,0.125,0.175,0.225],"labels":false,"tickSize":-3}}}},
{"data":{"values":[{"x":29.92,"y":0.229,"t":"i"}]},"mark":{"type":"text","style":"big","fontStyle":"italic"},"encoding":{"x":{"field":"x","type":"quantitative","axis":null},"y":{"field":"y","type":"quantitative","axis":null},"text":{"field":"t"}}},
{"data":{"values":[{"x":29.937,"y":0.229,"t":"= 30"}]},"mark":{"type":"text","style":"big"},"encoding":{"x":{"field":"x","type":"quantitative","axis":null},"y":{"field":"y","type":"quantitative","axis":null},"text":{"field":"t"}}},
{"data":{"values":[{"x":29.928,"y":0.2235,"t":"0"},{"x":29.998,"y":0.236,"t":"o"}]},"mark":{"type":"text","style":"sm"},"encoding":{"x":{"field":"x","type":"quantitative","axis":null},"y":{"field":"y","type":"quantitative","axis":null},"text":{"field":"t"}}}
]},
{"width":11,"height":265,"data":{"name":"cb"},"mark":{"type":"rect"},"encoding":{"y":{"field":"lo","type":"quantitative","scale":{"domain":[10,105],"nice":false,"zero":false},"axis":{"orient":"right","values":[15,30,45,60,75,90,105],"ticks":false,"labelPadding":3}},"y2":{"field":"hi"},"fill":{"field":"lo","type":"ordinal","legend":null,"scale":{"domain":[100,95,90,85,80,75,70,65,60,55,50,45,40,35,30,25,20,15,10],"range":["#ff0000","#ff2040","#ff4080","#ff60c0","#ff80ff","#c080f0","#8080ff","#4080ff","#0080ff","#0099ff","#00b3ff","#00ccff","#00e6ff","#00ffff","#00e0c0","#00c080","#00a040","#008000","#000000"]}}},"view":{"stroke":null}}
]}
]},
{"spacing":35,"bounds":"flush","hconcat":[
{"width":300,"height":265,"resolve":{"axis":{"x":"independent","y":"independent"}},"layer":[
{"data":{"name":"b4"},"transform":[{"fold":["a","b","c","d","e","f","g","h","i","j"]}],"mark":{"type":"area","clip":true},"encoding":{"x":{"field":"x","type":"quantitative","scale":{"domain":[29.9,30.5],"nice":false,"zero":false},"axis":{"values":[29.9,30.0,30.1,30.2,30.3,30.4,30.5],"format":".1f"}},"y":{"field":"value","type":"quantitative","stack":null,"scale":{"domain":[0,0.25],"nice":false},"axis":{"values":[0,0.05,0.1,0.15,0.2,0.25],"format":".2f"}},"color":{"field":"key","type":"nominal","legend":null,"scale":{"domain":["a","b","c","d","e","f","g","h","i","j","k","w"],"range":["#ff0000","#ff3070","#ff70e0","#a080f8","#3088ff","#00a0ff","#00ccff","#00ffff","#00d8b0","#00b060","#008000","#ffffff"]}}}},
{"data":{"name":"m4"},"mark":{"type":"point","style":"mo"},"encoding":{"x":{"field":"x","type":"quantitative","axis":{"values":[29.95,30.05,30.15,30.25,30.35,30.45],"labels":false,"tickSize":-3}},"y":{"field":"y","type":"quantitative","axis":{"values":[0.025,0.075,0.125,0.175,0.225],"labels":false,"tickSize":-3}},"color":{"field":"k","type":"nominal","legend":null}}},
{"data":{"name":"c4"},"mark":{"type":"line","clip":true},"encoding":{"x":{"field":"x","type":"quantitative","axis":{"orient":"top","values":[29.9,30.0,30.1,30.2,30.3,30.4,30.5],"labels":false}},"y":{"field":"y","type":"quantitative","axis":{"orient":"right","values":[0,0.05,0.1,0.15,0.2,0.25],"labels":false}},"detail":{"field":"c"},"stroke":{"field":"w","type":"nominal","legend":null,"scale":{"domain":["t","k","r"],"range":["#000000","#000000","#d02020"]}},"strokeWidth":{"field":"w","type":"ordinal","legend":null,"scale":{"domain":["t","k","r"],"range":[1.8,0.9,0.8]}}}},
{"data":{"name":"s4"},"mark":{"type":"point","style":"sc"},"encoding":{"x":{"field":"x","type":"quantitative","axis":{"orient":"top","values":[29.95,30.05,30.15,30.25,30.35,30.45],"labels":false,"tickSize":-3}},"y":{"field":"y","type":"quantitative","axis":{"orient":"right","values":[0.025,0.075,0.125,0.175,0.225],"labels":false,"tickSize":-3}}}},
{"data":{"values":[{"x":29.92,"y":0.229,"t":"i"}]},"mark":{"type":"text","style":"big","fontStyle":"italic"},"encoding":{"x":{"field":"x","type":"quantitative","axis":null},"y":{"field":"y","type":"quantitative","axis":null},"text":{"field":"t"}}},
{"data":{"values":[{"x":29.937,"y":0.229,"t":"= 40"}]},"mark":{"type":"text","style":"big"},"encoding":{"x":{"field":"x","type":"quantitative","axis":null},"y":{"field":"y","type":"quantitative","axis":null},"text":{"field":"t"}}},
{"data":{"values":[{"x":29.928,"y":0.2235,"t":"0"},{"x":29.998,"y":0.236,"t":"o"}]},"mark":{"type":"text","style":"sm"},"encoding":{"x":{"field":"x","type":"quantitative","axis":null},"y":{"field":"y","type":"quantitative","axis":null},"text":{"field":"t"}}}
]},
{"spacing":5,"bounds":"flush","hconcat":[
{"width":301,"height":265,"resolve":{"axis":{"x":"independent","y":"independent"}},"layer":[
{"data":{"name":"b5"},"transform":[{"fold":["a","b","c","d","e","f","g","h"]}],"mark":{"type":"area","clip":true},"encoding":{"x":{"field":"x","type":"quantitative","scale":{"domain":[29.9,30.5],"nice":false,"zero":false},"axis":{"values":[29.9,30.0,30.1,30.2,30.3,30.4,30.5],"format":".1f"}},"y":{"field":"value","type":"quantitative","stack":null,"scale":{"domain":[0,0.15],"nice":false},"axis":{"values":[0,0.05,0.1,0.15],"format":".2f"}},"color":{"field":"key","type":"nominal","legend":null,"scale":{"domain":["a","b","c","d","e","f","g","h","i","j","k","w"],"range":["#ff0000","#ff3070","#ff70e0","#a080f8","#3088ff","#00a0ff","#00ccff","#00ffff","#00d8b0","#00b060","#008000","#ffffff"]}}}},
{"data":{"name":"m5"},"mark":{"type":"point","style":"mo"},"encoding":{"x":{"field":"x","type":"quantitative","axis":{"values":[29.95,30.05,30.15,30.25,30.35,30.45],"labels":false,"tickSize":-3}},"y":{"field":"y","type":"quantitative","axis":{"values":[0.01,0.02,0.03,0.04,0.06,0.07,0.08,0.09,0.11,0.12,0.13,0.14],"labels":false,"tickSize":-3}},"color":{"field":"k","type":"nominal","legend":null}}},
{"data":{"name":"c5"},"mark":{"type":"line","clip":true},"encoding":{"x":{"field":"x","type":"quantitative","axis":{"orient":"top","values":[29.9,30.0,30.1,30.2,30.3,30.4,30.5],"labels":false}},"y":{"field":"y","type":"quantitative","axis":{"orient":"right","values":[0,0.05,0.1,0.15],"labels":false}},"detail":{"field":"c"},"stroke":{"field":"w","type":"nominal","legend":null,"scale":{"domain":["t","k","r"],"range":["#000000","#000000","#d02020"]}},"strokeWidth":{"field":"w","type":"ordinal","legend":null,"scale":{"domain":["t","k","r"],"range":[1.8,0.9,0.8]}}}},
{"data":{"name":"s5"},"mark":{"type":"point","style":"sc"},"encoding":{"x":{"field":"x","type":"quantitative","axis":{"orient":"top","values":[29.95,30.05,30.15,30.25,30.35,30.45],"labels":false,"tickSize":-3}},"y":{"field":"y","type":"quantitative","axis":{"orient":"right","values":[0.01,0.02,0.03,0.04,0.06,0.07,0.08,0.09,0.11,0.12,0.13,0.14],"labels":false,"tickSize":-3}}}},
{"data":{"values":[{"x":29.92,"y":0.1375,"t":"i"}]},"mark":{"type":"text","style":"big","fontStyle":"italic"},"encoding":{"x":{"field":"x","type":"quantitative","axis":null},"y":{"field":"y","type":"quantitative","axis":null},"text":{"field":"t"}}},
{"data":{"values":[{"x":29.937,"y":0.1375,"t":"= 50"}]},"mark":{"type":"text","style":"big"},"encoding":{"x":{"field":"x","type":"quantitative","axis":null},"y":{"field":"y","type":"quantitative","axis":null},"text":{"field":"t"}}},
{"data":{"values":[{"x":29.928,"y":0.134,"t":"0"},{"x":29.998,"y":0.1415,"t":"o"}]},"mark":{"type":"text","style":"sm"},"encoding":{"x":{"field":"x","type":"quantitative","axis":null},"y":{"field":"y","type":"quantitative","axis":null},"text":{"field":"t"}}}
]},
{"width":11,"height":265,"data":{"name":"cb"},"mark":{"type":"rect"},"encoding":{"y":{"field":"lo","type":"quantitative","scale":{"domain":[10,105],"nice":false,"zero":false},"axis":{"orient":"right","values":[15,30,45,60,75,90,105],"ticks":false,"labelPadding":3}},"y2":{"field":"hi"},"fill":{"field":"lo","type":"ordinal","legend":null,"scale":{"domain":[100,95,90,85,80,75,70,65,60,55,50,45,40,35,30,25,20,15,10],"range":["#ff0000","#ff2040","#ff4080","#ff60c0","#ff80ff","#c080f0","#8080ff","#4080ff","#0080ff","#0099ff","#00b3ff","#00ccff","#00e6ff","#00ffff","#00e0c0","#00c080","#00a040","#008000","#000000"]}}},"view":{"stroke":null}}
]}
]}
]}
